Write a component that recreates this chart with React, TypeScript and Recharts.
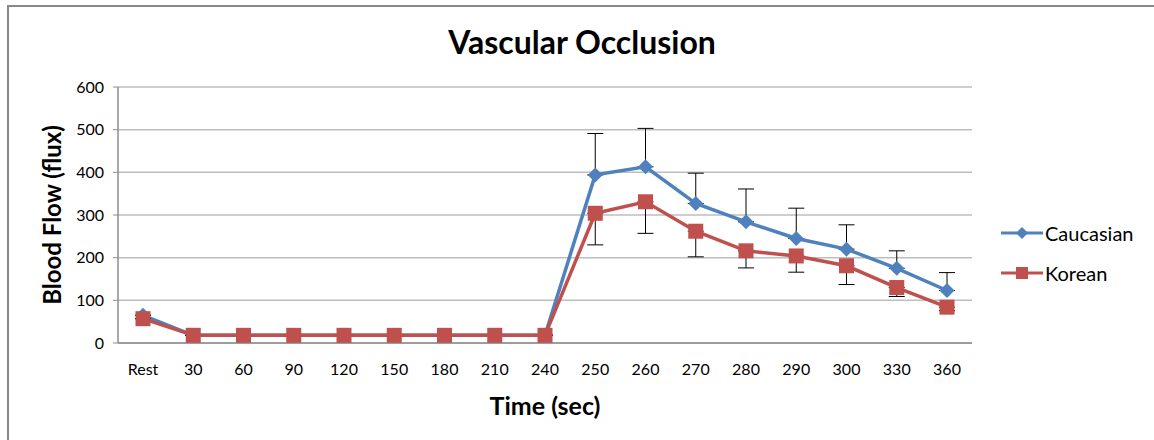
import React from 'react';
import { LineChart, Line, XAxis, YAxis, CartesianGrid, ErrorBar } from 'recharts';

const FONT = 'Lato, "Open Sans", sans-serif';
const BLUE = '#4F81BD';
const RED = '#C0504D';

const times = ['Rest', '30', '60', '90', '120', '150', '180', '210', '240', '250', '260', '270', '280', '290', '300', '330', '360'];
const caucasian = [65, 18, 18, 18, 18, 18, 18, 18, 18, 394, 413, 327, 284, 245, 220, 175, 123];
const korean = [57, 18, 18, 18, 18, 18, 18, 18, 18, 304, 331, 262, 216, 204, 181, 130, 84];
// upward error only for Caucasian, downward only for Korean
const caucasianErrUp = [0, 0, 0, 0, 0, 0, 0, 0, 0, 97, 90, 71, 77, 71, 57, 41, 42];
const koreanErrDown = [0, 0, 0, 0, 0, 0, 0, 0, 0, 74, 74, 60, 40, 38, 44, 21, 8];
const yTicks = [0, 100, 200, 300, 400, 500, 600];

const data = times.map((t, i) => ({
  time: t,
  caucasian: caucasian[i],
  korean: korean[i],
  cErr: [0, caucasianErrUp[i]],
  kErr: [koreanErrDown[i], 0],
}));

const Diamond = (props: any) => {
  const { cx, cy, fill } = props;
  if (cx == null || cy == null) return null;
  const r = 7.5;
  return <polygon points={`${cx},${cy - r} ${cx + r},${cy} ${cx},${cy + r} ${cx - r},${cy}`} fill={fill} />;
};

const Square = (props: any) => {
  const { cx, cy, fill } = props;
  if (cx == null || cy == null) return null;
  const s = 15;
  return <rect x={cx - s / 2} y={cy - s / 2} width={s} height={s} fill={fill} />;
};

const ChartLegend = () => (
  <div style={{ position: 'absolute', left: 993, top: 213, fontFamily: FONT, fontSize: 20, color: '#000' }}>
    <div style={{ display: 'flex', alignItems: 'center', height: 24 }}>
      <svg width={42} height={20}>
        <line x1={0} y1={10} x2={42} y2={10} stroke={BLUE} strokeWidth={3} />
        <polygon points="21,4 27,10 21,16 15,10" fill={BLUE} />
      </svg>
      <span style={{ marginLeft: 2 }}>Caucasian</span>
    </div>
    <div style={{ display: 'flex', alignItems: 'center', height: 24, marginTop: 16 }}>
      <svg width={42} height={20}>
        <line x1={0} y1={10} x2={42} y2={10} stroke={RED} strokeWidth={3} />
        <rect x={15} y={4} width={12} height={12} fill={RED} />
      </svg>
      <span style={{ marginLeft: 2 }}>Korean</span>
    </div>
  </div>
);

export default function App() {
  return (
    <div style={{ position: 'relative', width: 1154, height: 440, background: '#fff', overflow: 'hidden' }}>
      <style>{'html,body{margin:0;padding:0;overflow:hidden;background:#fff}'}</style>
      {/* frame of the original chart area */}
      <div
        style={{
          position: 'absolute',
          left: 7,
          top: 5,
          width: 1147,
          height: 435,
          borderTop: '2px solid #888',
          borderLeft: '2px solid #888',
          boxSizing: 'border-box',
        }}
      />
      <div style={{ position: 'absolute', left: 8, top: 8, width: 1146, height: 432 }}>
        <div
          style={{
            position: 'absolute',
            top: 14,
            left: 0,
            width: 1146,
            textAlign: 'center',
            fontFamily: FONT,
            fontWeight: 700,
            fontSize: 32,
          }}
        >
          <span style={{ position: 'relative', left: 1 }}>Vascular Occlusion</span>
        </div>
        <div
          style={{
            position: 'absolute',
            left: 44 - 120,
            top: 207 - 16,
            width: 240,
            height: 32,
            lineHeight: '32px',
            textAlign: 'center',
            transform: 'rotate(-90deg)',
            fontFamily: FONT,
            fontWeight: 700,
            fontSize: 24,
          }}
        >
          Blood Flow (flux)
        </div>
        <div
          style={{
            position: 'absolute',
            left: 537 - 100,
            top: 397 - 16,
            width: 200,
            height: 32,
            lineHeight: '32px',
            textAlign: 'center',
            fontFamily: FONT,
            fontWeight: 700,
            fontSize: 25,
          }}
        >
          Time (sec)
        </div>
        <ChartLegend />
        <LineChart
          width={1146}
          height={432}
          data={data}
          margin={{ top: 79, right: 182, left: 50, bottom: 37 }}
          style={{ position: 'absolute', left: 0, top: 0 }}
        >
          <CartesianGrid vertical={false} stroke="#BEBEBE" strokeWidth={1.5} />
          <XAxis
            dataKey="time"
            height={60}
            tickLine={false}
            axisLine={{ stroke: '#8C8C8C', strokeWidth: 1.5 }}
            tick={{ fontFamily: FONT, fontSize: 16, fill: '#000' }}
            tickMargin={15}
            interval={0}
            padding={{ left: 25, right: 25 }}
          />
          <YAxis
            width={60}
            domain={[0, 600]}
            ticks={yTicks}
            tickSize={5}
            tickLine={{ stroke: '#8C8C8C' }}
            axisLine={{ stroke: '#8C8C8C', strokeWidth: 1.5 }}
            tick={{ fontFamily: FONT, fontSize: 16, fill: '#000' }}
            tickMargin={9}
          />
          <Line
            dataKey="caucasian"
            name="Caucasian"
            stroke={BLUE}
            strokeWidth={3.5}
            dot={<Diamond fill={BLUE} />}
            activeDot={false}
            isAnimationActive={false}
          >
            <ErrorBar dataKey="cErr" width={8} stroke="#000" strokeWidth={1} direction="y" />
          </Line>
          <Line
            dataKey="korean"
            name="Korean"
            stroke={RED}
            strokeWidth={3.5}
            dot={<Square fill={RED} />}
            activeDot={false}
            isAnimationActive={false}
          >
            <ErrorBar dataKey="kErr" width={8} stroke="#000" strokeWidth={1} direction="y" />
          </Line>
        </LineChart>
      </div>
    </div>
  );
}
